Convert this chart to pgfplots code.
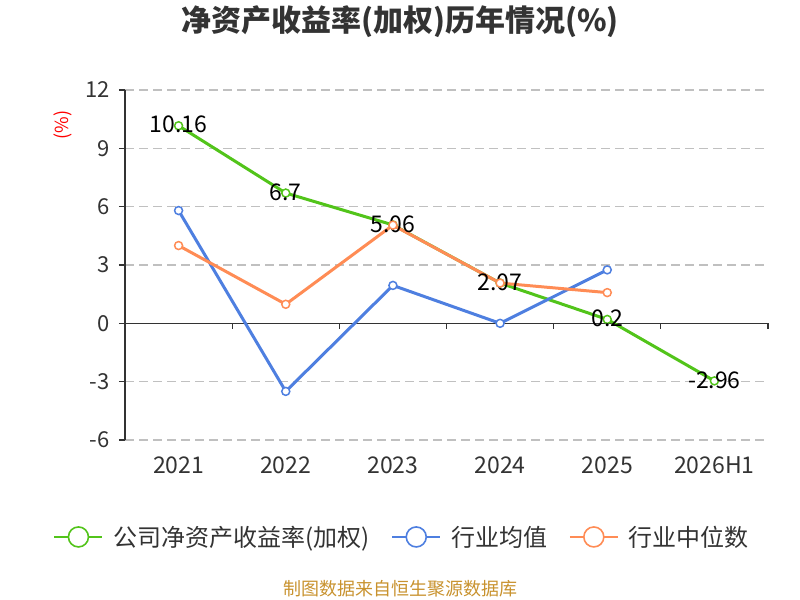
\documentclass[border=0pt]{standalone}
\usepackage{pgfplots}
\pgfplotsset{compat=1.18}
\usepackage{fontspec}
\setmainfont{Noto Sans CJK SC}
\definecolor{cgreen}{HTML}{52C41A}
\definecolor{cblue}{HTML}{4E7FE0}
\definecolor{corange}{HTML}{FF8C55}
\definecolor{ctext}{HTML}{333333}
\definecolor{cgrid}{HTML}{C0C0C0}
\definecolor{cfoot}{HTML}{C8922E}
\begin{document}
\begin{tikzpicture}
\useasboundingbox (0,0) rectangle (800bp,600bp);
\begin{axis}[
  at={(125bp,160bp)}, anchor=south west,
  scale only axis, width=643bp, height=350bp,
  xmin=-0.5, xmax=5.5, ymin=-6, ymax=12,
  axis x line=none,
  axis y line*=left,
  y axis line style={draw=ctext, line width=1.2bp, -},
  xtick={0,1,2,3,4,5},
  ytick={-6,-3,0,3,6,9,12},
  ymajorgrids,
  grid style={cgrid, dash pattern=on 9bp off 5bp, line width=1.2bp},
  tick style={draw=ctext, line width=1.2bp},
  ytick style={draw=ctext},
  tick align=outside,
  major tick length=6bp,
  yticklabel style={font=\fontsize{22bp}{26bp}\selectfont, text=ctext, xshift=-6bp},
  /pgf/number format/assume math mode=true,
  clip=false,
  nodes near coords style={anchor=center, font=\fontsize{23bp}{26bp}\selectfont, text=black, yshift=1bp},
  legend style={at={(0.431,-0.277)}, anchor=center, draw=none, fill=none,
    legend columns=3, font=\fontsize{24bp}{28bp}\selectfont, text=ctext,
    /tikz/every odd column/.append style={column sep=8bp},
    /tikz/every even column/.append style={column sep=20bp}},
  legend image code/.code={
    \draw[#1, line width=1.6bp, mark size=10bp, mark repeat=2, mark phase=2, mark options={line width=1.6bp, fill=white}] plot coordinates {(0bp,0bp) (24bp,0bp) (48bp,0bp)};
  },
]
\draw[ctext, line width=1.2bp] (axis cs:-0.5,0) -- (axis cs:5.5,0);
\draw[ctext, line width=1.2bp] (axis cs:-0.5,0) -- ([yshift=-6bp]axis cs:-0.5,0);
\draw[ctext, line width=1.2bp] (axis cs:0.5,0) -- ([yshift=-6bp]axis cs:0.5,0);
\draw[ctext, line width=1.2bp] (axis cs:1.5,0) -- ([yshift=-6bp]axis cs:1.5,0);
\draw[ctext, line width=1.2bp] (axis cs:2.5,0) -- ([yshift=-6bp]axis cs:2.5,0);
\draw[ctext, line width=1.2bp] (axis cs:3.5,0) -- ([yshift=-6bp]axis cs:3.5,0);
\draw[ctext, line width=1.2bp] (axis cs:4.5,0) -- ([yshift=-6bp]axis cs:4.5,0);
\draw[ctext, line width=1.2bp] (axis cs:5.5,0) -- ([yshift=-6bp]axis cs:5.5,0);
\addplot[color=cgreen, line width=3bp, mark=*, mark size=4bp, mark options={fill=white, line width=1.5bp},
  nodes near coords, point meta=explicit symbolic]
  coordinates {(0,10.16)[10.16] (1,6.7)[6.7] (2,5.06)[5.06] (3,2.07)[2.07] (4,0.2)[0.2] (5,-2.96)[-2.96]};
\addlegendentry{公司净资产收益率(加权)}
\addplot[color=cblue, line width=3bp, mark=*, mark size=4bp, mark options={fill=white, line width=1.5bp}]
  coordinates {(0,5.8) (1,-3.5) (2,1.95) (3,0) (4,2.75)};
\addlegendentry{行业均值}
\addplot[color=corange, line width=3bp, mark=*, mark size=4bp, mark options={fill=white, line width=1.5bp}]
  coordinates {(0,4.0) (1,0.98) (2,5.05) (3,2.07) (4,1.58)};
\addlegendentry{行业中位数}
\node[font=\fontsize{23bp}{26bp}\selectfont, text=ctext, yshift=-25bp] at (axis cs:0,-6) {2021};
\node[font=\fontsize{23bp}{26bp}\selectfont, text=ctext, yshift=-25bp] at (axis cs:1,-6) {2022};
\node[font=\fontsize{23bp}{26bp}\selectfont, text=ctext, yshift=-25bp] at (axis cs:2,-6) {2023};
\node[font=\fontsize{23bp}{26bp}\selectfont, text=ctext, yshift=-25bp] at (axis cs:3,-6) {2024};
\node[font=\fontsize{23bp}{26bp}\selectfont, text=ctext, yshift=-25bp] at (axis cs:4,-6) {2025};
\node[font=\fontsize{23bp}{26bp}\selectfont, text=ctext, yshift=-25bp] at (axis cs:5,-6) {2026H1};
\end{axis}
\node[font=\fontsize{30bp}{35bp}\selectfont\bfseries, text=ctext] at (400bp,578bp) {净资产收益率(加权)历年情况(\%)};
\node[rotate=90, font=\fontsize{18bp}{22bp}\selectfont, text=red] at (63bp,475bp) {(\%)};
\node[font=\fontsize{18bp}{22bp}\selectfont, text=cfoot] at (400bp,11bp) {制图数据来自恒生聚源数据库};
\end{tikzpicture}
\end{document}
